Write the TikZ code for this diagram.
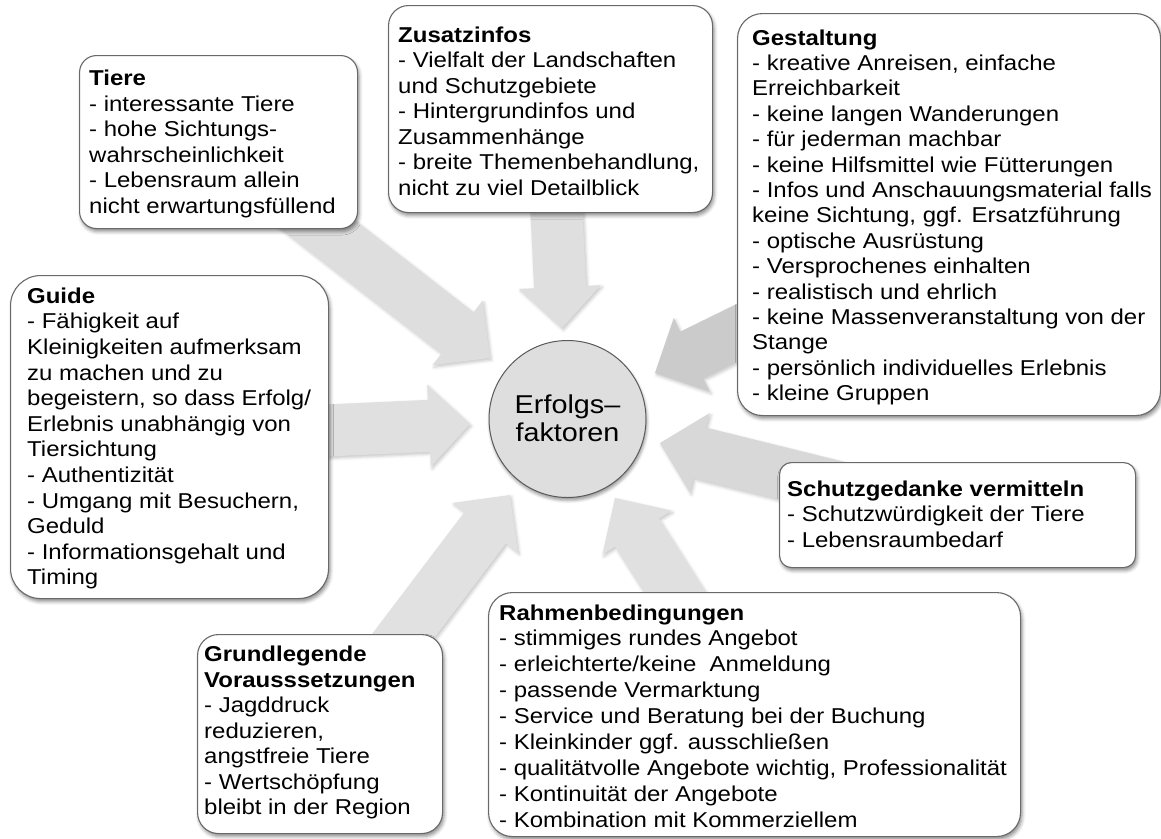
\documentclass[tikz,border=0pt]{standalone}
\usepackage{fontspec}
\setmainfont{Liberation Sans}[FakeStretch=1.115]
\usetikzlibrary{calc,shadows.blur}

\definecolor{boxline}{RGB}{105,105,105}
\definecolor{circline}{RGB}{90,90,90}
\definecolor{circfill}{RGB}{222,222,222}
\definecolor{arrowA}{RGB}{223,223,223}
\definecolor{arrowB}{RGB}{222,222,222}
\definecolor{arrowC}{RGB}{203,203,203}
\definecolor{arrowD}{RGB}{224,224,224}
\definecolor{arrowE}{RGB}{216,216,216}
\definecolor{arrowF}{RGB}{225,225,225}
\definecolor{arrowG}{RGB}{224,224,224}

% stacked lines, baseline of the node = baseline of the first line
\newcommand\cardlines[1]{\begin{tabular}[t]{@{}l@{}}#1\end{tabular}}

% wide block arrow from a tail point to a tip point
\newcommand\blockarrow[3]{%
  \path let \p1=(#1), \p2=(#2) in \pgfextra{%
    \pgfmathsetmacro\baang{atan2(\y2-\y1,\x2-\x1)}%
    \pgfmathsetmacro\balen{veclen(\x2-\x1,\y2-\y1)}%
    \xdef\baang{\baang}\xdef\balen{\balen}} (#1);
  \fill[#3, arrowshade, shift={(#1)}, rotate=\baang]
    (0,-26) -- (\balen-41,-26) -- (\balen-41,-41) -- (\balen,0)
    -- (\balen-41,41) -- (\balen-41,26) -- (0,26) -- cycle;
}

\begin{document}
\begin{tikzpicture}[x=1pt, y=1pt,
  card/.style={draw=boxline, line width=1.1pt, fill=white, rounded corners=#1,
    inner sep=0pt, anchor=north west,
    blur shadow={shadow xshift=1.5pt, shadow yshift=-3pt,
      shadow blur radius=3.5pt, shadow opacity=45}},
  cardtext/.style={anchor=base west, inner sep=0pt,
    font=\fontsize{21.5}{#1}\selectfont},
  cardtext/.default=25.5,
  arrowshade/.style={blur shadow={shadow xshift=1.5pt, shadow yshift=-2pt,
      shadow blur radius=3pt, shadow opacity=22}},
]
\useasboundingbox (0,0) rectangle (1161,-838);

% arrow ends: tails sit under the boxes, tips stop short of the circle
\coordinate (zusTail) at (556,-200);
\coordinate (zusTip)  at (562,-328);
\coordinate (tierTail) at (280,-195);
\coordinate (tierTip)  at (490,-358);
\coordinate (gesTail) at (763,-320);
\coordinate (gesTip)  at (655,-373);
\coordinate (guiTail) at (315,-431);
\coordinate (guiTip)  at (470,-424);
\coordinate (schTail) at (870,-495);
\coordinate (schTip)  at (660,-443);
\coordinate (gruTail) at (385,-660);
\coordinate (gruTip)  at (510,-495);
\coordinate (rahTail) at (690,-616);
\coordinate (rahTip)  at (615,-498);

\blockarrow{zusTail}{zusTip}{arrowA}
\blockarrow{tierTail}{tierTip}{arrowB}
\blockarrow{gesTail}{gesTip}{arrowC}
\blockarrow{guiTail}{guiTip}{arrowD}
\blockarrow{schTail}{schTip}{arrowE}
\blockarrow{gruTail}{gruTip}{arrowF}
\blockarrow{rahTail}{rahTip}{arrowG}

% centre
\node[circle, draw=circline, line width=1pt, fill=circfill, minimum size=157pt,
  inner sep=0pt, blur shadow={shadow xshift=1pt, shadow yshift=-3pt,
    shadow blur radius=3pt, shadow opacity=40}] (core) at (567.5,-419) {};
\node[anchor=base, inner sep=0pt, font=\fontsize{25.8}{28.4}\selectfont]
  (coretext) at (567.5,-413.3)
  {\begin{tabular}[t]{@{}c@{}}Erfolgs–\\faktoren\end{tabular}};

% boxes
\node[card=17pt, minimum width=278pt, minimum height=173pt] (tiere) at (79,-55) {};
\node[cardtext] (tiereT) at (89,-85.7) {\cardlines{%
  \textbf{Tiere}\\
  - interessante Tiere\\
  - hohe Sichtungs-\\
  wahrscheinlichkeit\\
  - Lebensraum allein\\
  nicht erwartungsfüllend}};

\node[card=20pt, minimum width=324pt, minimum height=207pt] (zusatz) at (388,-5) {};
\node[cardtext] (zusatzT) at (398,-42) {\cardlines{%
  \textbf{Zusatzinfos}\\
  - Vielfalt der Landschaften\\
  und Schutzgebiete\\
  - Hintergrundinfos und\\
  Zusammenhänge\\
  - breite Themenbehandlung,\\
  nicht zu viel Detailblick}};

\node[card=25pt, minimum width=423pt, minimum height=402pt] (gestalt) at (737,-13) {};
\node[cardtext=25.4] (gestaltT) at (752,-45) {\cardlines{%
  \textbf{Gestaltung}\\
  - kreative Anreisen, einfache\\
  Erreichbarkeit\\
  - keine langen Wanderungen\\
  - für jederman machbar\\
  - keine Hilfsmittel wie Fütterungen\\
  - Infos und Anschauungsmaterial falls\\
  keine Sichtung, ggf. Ersatzführung\\
  - optische Ausrüstung\\
  - Versprochenes einhalten\\
  - realistisch und ehrlich\\
  - keine Massenveranstaltung von der\\
  Stange\\
  - persönlich individuelles Erlebnis\\
  - kleine Gruppen}};

\node[card=30pt, minimum width=318pt, minimum height=323pt] (guide) at (10,-275) {};
\node[cardtext=25.6] (guideT) at (27,-303.3) {\cardlines{%
  \textbf{Guide}\\
  - Fähigkeit auf\\
  Kleinigkeiten aufmerksam\\
  zu machen und zu\\
  begeistern, so dass Erfolg/\\
  Erlebnis unabhängig von\\
  Tiersichtung\\
  - Authentizität\\
  - Umgang mit Besuchern,\\
  Geduld\\
  - Informationsgehalt und\\
  Timing}};

\node[card=12pt, minimum width=356pt, minimum height=105pt] (schutz) at (779,-462) {};
\node[cardtext] (schutzT) at (787,-496) {\cardlines{%
  \textbf{Schutzgedanke vermitteln}\\
  - Schutzwürdigkeit der Tiere\\
  - Lebensraumbedarf}};

\node[card=21pt, minimum width=245pt, minimum height=199pt] (grund) at (197,-634) {};
\node[cardtext] (grundT) at (204,-661.7) {\cardlines{%
  \textbf{Grundlegende}\\
  \textbf{Vorausssetzungen}\\
  - Jagddruck\\
  reduzieren,\\
  angstfreie Tiere\\
  - Wertschöpfung\\
  bleibt in der Region}};

\node[card=24pt, minimum width=532pt, minimum height=244pt] (rahmen) at (488,-592) {};
\node[cardtext=25.9] (rahmenT) at (499,-620) {\cardlines{%
  \textbf{Rahmenbedingungen}\\
  - stimmiges rundes Angebot\\
  - erleichterte/keine\ \ Anmeldung\\
  - passende Vermarktung\\
  - Service und Beratung bei der Buchung\\
  - Kleinkinder ggf. ausschließen\\
  - qualitätvolle Angebote wichtig, Professionalität\\
  - Kontinuität der Angebote\\
  - Kombination mit Kommerziellem}};
\end{tikzpicture}
\end{document}
